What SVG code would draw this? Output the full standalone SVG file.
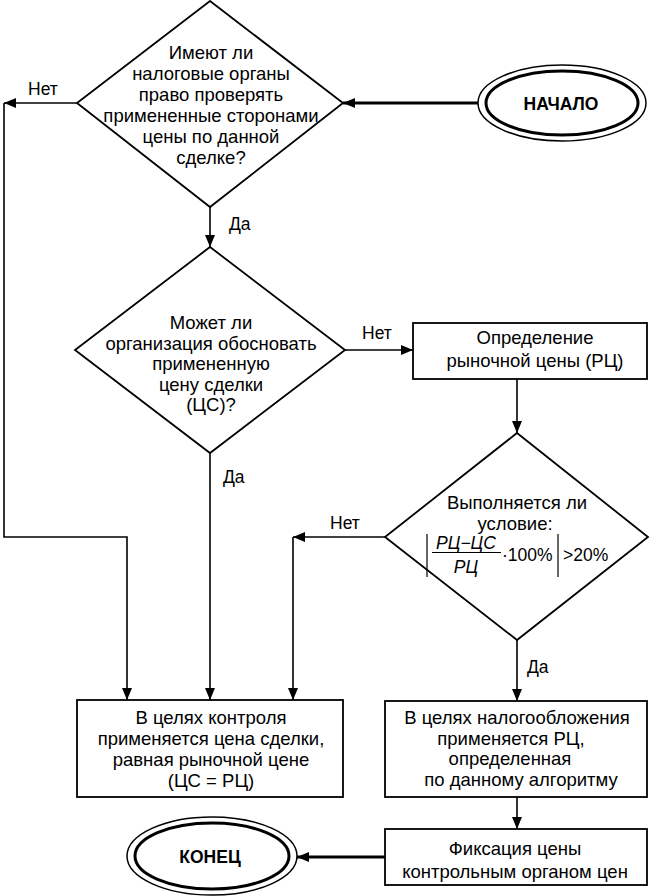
<svg xmlns="http://www.w3.org/2000/svg" width="650" height="896" viewBox="0 0 650 896">
<defs>
<marker id="ah" viewBox="0 0 12 10" refX="12" refY="5" markerWidth="12" markerHeight="10" markerUnits="userSpaceOnUse" orient="auto">
<path d="M0,0 L12,5 L0,10 z" fill="#000"/>
</marker>
<style>
.t{font-family:"Liberation Sans",Arial,sans-serif;font-size:18.5px;fill:#000;text-anchor:middle}
.lb{font-family:"Liberation Sans",Arial,sans-serif;font-size:17.5px;fill:#000}
.b{font-family:"Liberation Sans",Arial,sans-serif;font-size:17.5px;font-weight:bold;fill:#000;text-anchor:middle}
.f{font-family:"Liberation Sans",Arial,sans-serif;font-size:17.5px;fill:#000;font-style:italic;text-anchor:middle}
.s{fill:#fff;stroke:#000;stroke-width:1.8}
.c{fill:none;stroke:#000;stroke-width:1.6}
.ct{fill:none;stroke:#000;stroke-width:3}
</style>
</defs>
<rect width="650" height="896" fill="#fff"/>

<g id="connectors">
<path class="ct" d="M478,103 H343" marker-end="url(#ah)"/>
<path class="c" d="M77,103 H4" marker-end="url(#ah)"/>
<path class="c" d="M4,103 V537 H127 V700" marker-end="url(#ah)"/>
<path class="c" d="M210,207 V247" marker-end="url(#ah)"/>
<path class="c" d="M345,350 H413" marker-end="url(#ah)"/>
<path class="c" d="M210,453 V700" marker-end="url(#ah)"/>
<path class="c" d="M517,379 V433" marker-end="url(#ah)"/>
<path class="c" d="M385,537 H293" marker-end="url(#ah)"/>
<path class="c" d="M293,537 V700" marker-end="url(#ah)"/>
<path class="c" d="M517,640 V701" marker-end="url(#ah)"/>
<path class="c" d="M517,797 V829" marker-end="url(#ah)"/>
<path class="ct" d="M385,857 H297" marker-end="url(#ah)"/>
<text class="lb" x="28" y="95">Нет</text>
<text class="lb" x="229" y="230">Да</text>
<text class="lb" x="362" y="339">Нет</text>
<text class="lb" x="223" y="483">Да</text>
<text class="lb" x="330" y="529">Нет</text>
<text class="lb" x="527" y="673">Да</text>
</g>

<g id="start">
<ellipse cx="562" cy="103" rx="84" ry="38" fill="#fff" stroke="#000" stroke-width="1.5"/>
<ellipse cx="562" cy="103" rx="76" ry="32" fill="none" stroke="#000" stroke-width="3"/>
<text class="b" x="561" y="110">НАЧАЛО</text>
</g>

<g id="decision1">
<polygon class="s" points="210,1 343,103 210,207 77,103"/>
<text class="t" x="211" y="59">Имеют ли</text>
<text class="t" x="211" y="80">налоговые органы</text>
<text class="t" x="211" y="101">право проверять</text>
<text class="t" x="211" y="122">примененные сторонами</text>
<text class="t" x="211" y="143">цены по данной</text>
<text class="t" x="211" y="164">сделке?</text>
</g>

<g id="decision2">
<polygon class="s" points="210,247 345,350 210,453 75,350"/>
<text class="t" x="211" y="329">Может ли</text>
<text class="t" x="211" y="349.5">организация обосновать</text>
<text class="t" x="211" y="370">примененную</text>
<text class="t" x="211" y="390.5">цену сделки</text>
<text class="t" x="211" y="411">(ЦС)?</text>
</g>

<g id="market-price">
<rect class="s" x="413" y="323" width="234" height="56"/>
<text class="t" x="535" y="344">Определение</text>
<text class="t" x="535" y="367">рыночной цены (РЦ)</text>
</g>

<g id="decision3">
<polygon class="s" points="517,433 648,537 517,640 385,537"/>
<text class="t" x="517" y="509">Выполняется ли</text>
<text class="t" x="515" y="530">условие:</text>
<line x1="427" y1="534" x2="427" y2="577" stroke="#000" stroke-width="1.2"/>
<text class="f" x="466" y="549">РЦ−ЦС</text>
<line x1="432" y1="552.5" x2="501" y2="552.5" stroke="#000" stroke-width="1.2"/>
<text class="f" x="466" y="573">РЦ</text>
<text class="lb" x="502" y="561">·100%</text>
<line x1="558" y1="534" x2="558" y2="577" stroke="#000" stroke-width="1.2"/>
<text class="lb" x="563" y="561">&gt;20%</text>
</g>

<g id="control-price">
<rect class="s" x="77" y="700" width="266" height="97"/>
<text class="t" x="211" y="724">В целях контроля</text>
<text class="t" x="211" y="745">применяется цена сделки,</text>
<text class="t" x="211" y="766">равная рыночной цене</text>
<text class="t" x="211" y="787">(ЦС = РЦ)</text>
</g>

<g id="tax-price">
<rect class="s" x="385" y="701" width="262" height="96"/>
<text class="t" x="517" y="724">В целях налогообложения</text>
<text class="t" x="511" y="745">применяется РЦ,</text>
<text class="t" x="510" y="765">определенная</text>
<text class="t" x="521" y="786">по данному алгоритму</text>
</g>

<g id="fixation">
<rect class="s" x="385" y="829" width="262" height="56"/>
<text class="t" x="515" y="855">Фиксация цены</text>
<text class="t" x="515" y="878">контрольным органом цен</text>
</g>

<g id="end">
<ellipse cx="212" cy="856" rx="85" ry="39" fill="#fff" stroke="#000" stroke-width="1.5"/>
<ellipse cx="212" cy="856" rx="77" ry="33" fill="none" stroke="#000" stroke-width="3"/>
<text class="b" x="210" y="863">КОНЕЦ</text>
</g>
</svg>
